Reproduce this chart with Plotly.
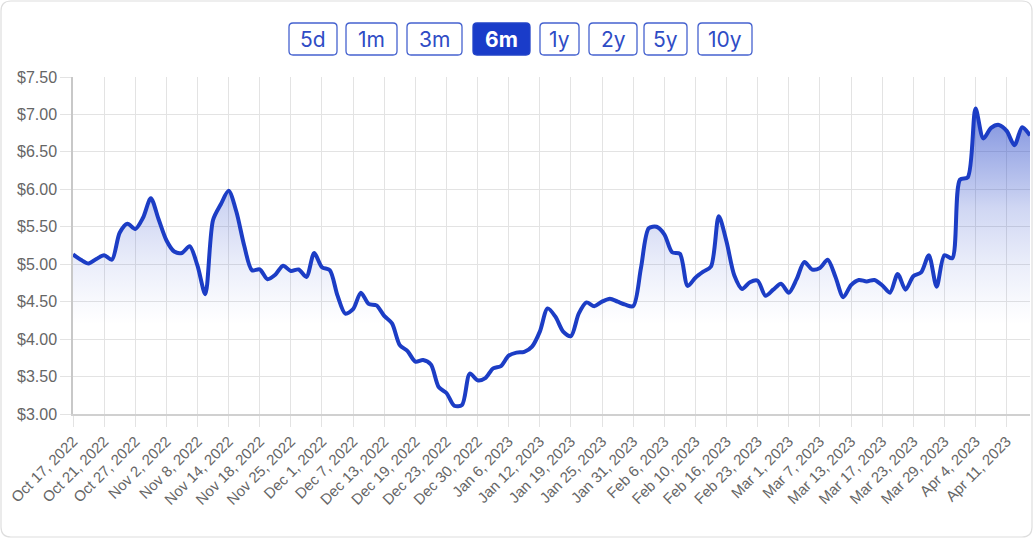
import pandas as pd
import plotly.graph_objects as go

# ---------------- data ----------------
holidays = ["2022-11-24", "2022-12-26", "2023-01-02", "2023-01-16", "2023-02-20", "2023-04-07"]
trade_days = pd.bdate_range("2022-10-17", "2023-04-14", freq="C", holidays=holidays)
date_labels = [f"{d:%b} {d.day}, {d.year}" for d in trade_days]

prices = [
    5.13, 5.06, 5.01, 5.07, 5.12, 5.06, 5.42, 5.54, 5.47, 5.62,
    5.88, 5.60, 5.32, 5.17, 5.15, 5.24, 4.98, 4.60, 5.59, 5.80,
    5.98, 5.70, 5.25, 4.92, 4.93, 4.80, 4.86, 4.98, 4.91, 4.93,
    4.83, 5.15, 4.96, 4.92, 4.58, 4.34, 4.40, 4.62, 4.47, 4.45,
    4.31, 4.21, 3.92, 3.84, 3.70, 3.72, 3.66, 3.36, 3.28, 3.11,
    3.12, 3.54, 3.45, 3.48, 3.61, 3.64, 3.78, 3.82, 3.83, 3.90,
    4.10, 4.41, 4.30, 4.10, 4.04, 4.34, 4.49, 4.44, 4.50, 4.54,
    4.50, 4.46, 4.44, 4.95, 5.48, 5.50, 5.40, 5.16, 5.14, 4.71,
    4.82, 4.90, 4.97, 5.64, 5.30, 4.85, 4.67, 4.76, 4.78, 4.58,
    4.66, 4.74, 4.62, 4.80, 5.03, 4.93, 4.95, 5.06, 4.83, 4.56,
    4.72, 4.79, 4.77, 4.79, 4.72, 4.62, 4.87, 4.66, 4.84, 4.89,
    5.12, 4.70, 5.12, 5.08, 6.13, 6.16, 7.08, 6.68, 6.82, 6.86,
    6.78, 6.59, 6.83, 6.72,
]
n = min(len(date_labels), len(prices))
date_labels = date_labels[:n]
prices = prices[:n]

x_tick_labels = date_labels[::4]
y_tick_values = [3.0, 3.5, 4.0, 4.5, 5.0, 5.5, 6.0, 6.5, 7.0, 7.5]
y_tick_labels = ["$3.00", "$3.50", "$4.00", "$4.50", "$5.00", "$5.50", "$6.00", "$6.50", "$7.00", "$7.50"]

range_buttons = ["5d", "1m", "3m", "6m", "1y", "2y", "5y", "10y"]
active_button = "6m"

# ---------------- layout constants ----------------
W, H = 1036, 542
ML, MR, MT, MB = 73, 6, 77, 128
PW, PH = W - ML - MR, H - MT - MB

def to_paper(px, py):
    return (px - ML) / PW, (H - MB - py) / PH

def rrect_path(x0, y0, x1, y1, r):
    pts = [
        ("M", [(x0 + r, y0)]),
        ("L", [(x1 - r, y0)]),
        ("Q", [(x1, y0), (x1, y0 + r)]),
        ("L", [(x1, y1 - r)]),
        ("Q", [(x1, y1), (x1 - r, y1)]),
        ("L", [(x0 + r, y1)]),
        ("Q", [(x0, y1), (x0, y1 - r)]),
        ("L", [(x0, y0 + r)]),
        ("Q", [(x0, y0), (x0 + r, y0)]),
    ]
    s = ""
    for cmd, ps in pts:
        s += cmd + " " + " ".join(f"{to_paper(a, b)[0]:.5f},{to_paper(a, b)[1]:.5f}" for a, b in ps) + " "
    return s + "Z"

LINE_BLUE = "#1c3dc5"
fill_scale = [
    [0.00, "rgba(30,63,198,0)"],
    [0.09, "rgba(30,63,198,0.03)"],
    [0.24, "rgba(30,63,198,0.09)"],
    [0.47, "rgba(30,63,198,0.21)"],
    [0.55, "rgba(30,63,198,0.29)"],
    [0.70, "rgba(30,63,198,0.42)"],
    [0.85, "rgba(30,63,198,0.56)"],
    [1.00, "rgba(30,63,198,0.68)"],
]

fig = go.Figure()
fig.add_trace(go.Scatter(
    x=date_labels,
    y=prices,
    mode="lines",
    line=dict(color=LINE_BLUE, width=4, shape="spline", smoothing=0.8),
    fill="tozeroy",
    fillgradient=dict(type="vertical", colorscale=fill_scale, start=4.2, stop=7.5),
    hoverinfo="x+y",
    showlegend=False,
))

shapes = []
annotations = []

# card border
shapes.append(dict(type="path", xref="paper", yref="paper",
                   path=rrect_path(1, 1, 1032, 537, 10),
                   line=dict(color="#dedede", width=1.2), layer="below"))

# range buttons
btn_x = [(289, 337), (346, 397), (407, 462), (473, 530), (540, 579), (589, 637), (644, 687), (698, 752)]
by0, by1 = 23, 55
for lab, (bx0, bx1) in zip(range_buttons, btn_x):
    active = lab == active_button
    shapes.append(dict(type="path", xref="paper", yref="paper",
                       path=rrect_path(bx0, by0, bx1, by1, 4),
                       line=dict(color="#2243c8" if active else "#4562cf", width=1.3),
                       fillcolor="#1a3cc9" if active else "rgba(0,0,0,0)"))
    cx, cy = to_paper((bx0 + bx1) / 2, (by0 + by1) / 2)
    annotations.append(dict(x=cx, y=cy, xref="paper", yref="paper", text=f"<b>{lab}</b>" if active else lab,
                            showarrow=False, xanchor="center", yanchor="middle",
                            font=dict(family="Inter", size=21, color="#ffffff" if active else "#2f4cc5")))

fig.update_layout(
    width=W, height=H,
    margin=dict(l=ML, r=MR, t=MT, b=MB),
    paper_bgcolor="white",
    plot_bgcolor="white",
    shapes=shapes,
    annotations=annotations,
    xaxis=dict(
        type="category",
        range=[0, n - 1],
        tickmode="array",
        tickvals=x_tick_labels,
        ticktext=x_tick_labels,
        tickangle=-45,
        showgrid=True, gridcolor="#e3e3e3", gridwidth=1,
        ticks="outside", ticklen=11, tickcolor="#e3e3e3", tickwidth=1,
        showline=True, linecolor="#d0d0d0", linewidth=1.5,
        tickfont=dict(family="Arial", size=15, color="#666666"),
        zeroline=False,
        fixedrange=True,
    ),
    yaxis=dict(
        range=[3.0, 7.5],
        tickmode="array",
        tickvals=y_tick_values,
        ticktext=y_tick_labels,
        showgrid=True, gridcolor="#e3e3e3", gridwidth=1,
        ticks="outside", ticklen=11, tickcolor="#e3e3e3", tickwidth=1,
        showline=True, linecolor="#c8c8c8", linewidth=1.5,
        tickfont=dict(family="Arial", size=16, color="#666666"),
        zeroline=False,
        fixedrange=True,
    ),
)

fig.write_html(
    "out.html",
    config={"displayModeBar": False},
    post_script="document.body.style.margin='0';document.body.style.overflow='hidden';",
)
